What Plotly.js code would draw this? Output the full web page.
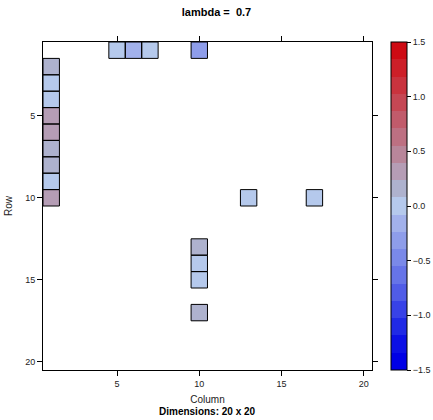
<!DOCTYPE html>
<html>
<head>
<meta charset="utf-8">
<script src="https://cdn.plot.ly/plotly-3.0.1.min.js"></script>
<style>html,body{margin:0;padding:0;background:#fff;}#chart{width:433px;height:420px;}</style>
</head>
<body>
<div id="chart"></div>
<script>
// Non-zero entries of the 20 x 20 matrix (row, column, value)
const rows   = [1, 1, 1, 1,    2, 3, 4, 5, 6, 7, 8, 9, 10,   10, 10,   13, 14, 15, 17];
const cols   = [5, 6, 7, 10,   1, 1, 1, 1, 1, 1, 1, 1, 1,    13, 17,   10, 10, 10, 10];
const values = [0.02, -0.15, 0.02, -0.3,
                0.15, 0.02, 0.02, 0.3, 0.3, 0.15, 0.15, 0.02, 0.3,
                0.02, 0.02,
                0.15, 0.02, 0.02, 0.15];
const nRow = 20, nCol = 20;
const zMin = -1.5, zMax = 1.5;
const axisTicks = [5, 10, 15, 20];
const barTicks = [-1.5, -1.0, -0.5, 0.0, 0.5, 1.0, 1.5];
const titleText = "lambda =  0.7";
const xLabel = "Column", yLabel = "Row";
const subText = "Dimensions: 20 x 20";

// colour bands of the key, from low to high
const bandColors = [
  "rgb(0,0,230)", "rgb(12,16,230)", "rgb(32,42,230)", "rgb(56,66,231)",
  "rgb(80,92,231)", "rgb(102,116,232)", "rgb(122,137,233)", "rgb(142,157,234)",
  "rgb(162,177,235)", "rgb(181,201,236)", "rgb(174,178,206)", "rgb(181,157,181)",
  "rgb(184,134,154)", "rgb(189,112,130)", "rgb(193,91,107)", "rgb(197,71,84)",
  "rgb(201,51,62)", "rgb(205,31,40)", "rgb(206,11,20)"
];
const colorscale = [];
bandColors.forEach((c, i) => {
  colorscale.push([i / bandColors.length, c]);
  colorscale.push([(i + 1) / bandColors.length, c]);
});

const z = [];
for (let r = 0; r < nRow; r++) { z.push(new Array(nCol).fill(null)); }
rows.forEach((r, i) => { z[r - 1][cols[i] - 1] = values[i]; });
const xs = Array.from({length: nCol}, (_, i) => i + 1);
const ys = Array.from({length: nRow}, (_, i) => i + 1);

const font = "Liberation Sans, Arial, sans-serif";
const heat = {
  type: "heatmap", x: xs, y: ys, z: z, zmin: zMin, zmax: zMax,
  colorscale: colorscale, hoverongaps: false,
  colorbar: {
    xref: "container", x: 391 / 433, xanchor: "left", xpad: 0,
    y: 0.5, yanchor: "middle", ypad: 0,
    len: 1, lenmode: "fraction", thickness: 16,
    outlinewidth: 1, outlinecolor: "#000",
    tickmode: "array", tickvals: barTicks, ticktext: barTicks.map(v => v.toFixed(1).replace("-", "\u2212")),
    ticks: "outside", ticklen: 4, tickwidth: 1, tickcolor: "#000",
    tickfont: {family: font, size: 9, color: "#222"}
  }
};
const outline = {
  type: "scatter", mode: "markers", x: cols, y: rows,
  marker: {symbol: "square", size: 16.4, color: "rgba(0,0,0,0)", line: {color: "#000", width: 1}},
  hoverinfo: "skip", showlegend: false
};

const layout = {
  width: 433, height: 420,
  margin: {l: 43, r: 61, t: 42, b: 50, pad: 0, autoexpand: false},
  paper_bgcolor: "#fff", plot_bgcolor: "#fff",
  showlegend: false,
  title: {text: "<b>" + titleText + "</b>", x: 0.5, xref: "container", xanchor: "center",
          y: 0.972, yref: "container", yanchor: "middle",
          font: {family: font, size: 11, color: "#000"}},
  xaxis: {range: [0.5, nCol + 0.5], tickmode: "array", tickvals: axisTicks,
          ticks: "outside", ticklen: 5, tickcolor: "#000", showline: true, linecolor: "#000", linewidth: 1,
          mirror: "ticks", showgrid: false, zeroline: false,
          tickfont: {family: font, size: 9, color: "#222"},
          title: {text: xLabel, standoff: 8, font: {family: font, size: 10, color: "#222"}}},
  yaxis: {range: [nRow + 0.5, 0.5], tickmode: "array", tickvals: axisTicks,
          ticks: "outside", ticklen: 5, tickcolor: "#000", showline: true, linecolor: "#000", linewidth: 1,
          mirror: "ticks", showgrid: false, zeroline: false,
          tickfont: {family: font, size: 9, color: "#222"},
          title: {text: yLabel, standoff: 10, font: {family: font, size: 10, color: "#222"}}},
  annotations: [{
    text: "<b>" + subText + "</b>", xref: "paper", yref: "paper", x: 0.5, y: -0.127,
    xanchor: "center", yanchor: "middle", showarrow: false,
    font: {family: font, size: 10, color: "#000"}
  }]
};

Plotly.newPlot("chart", [heat, outline], layout, {displayModeBar: false, staticPlot: true});
</script>
</body>
</html>
